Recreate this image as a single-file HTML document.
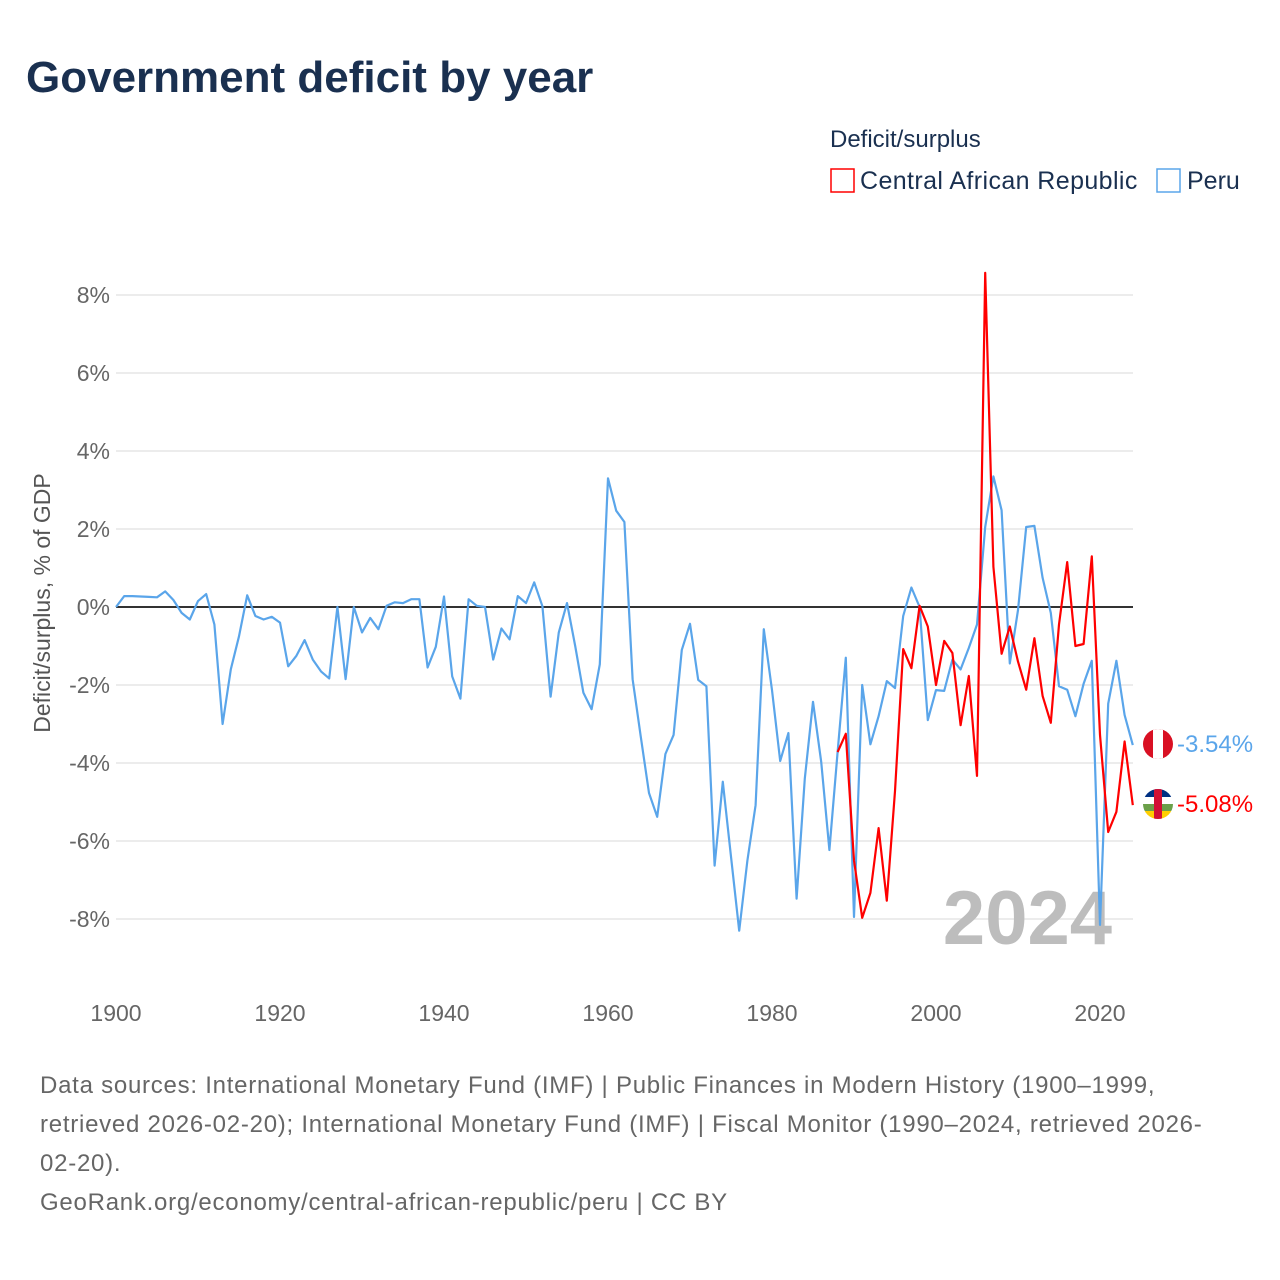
<!DOCTYPE html>
<html><head><meta charset="utf-8"><style>
body{margin:0;background:#fff;font-family:"Liberation Sans",sans-serif;}
#wrap{position:relative;width:1280px;height:1280px;overflow:hidden;}
</style></head><body>
<div id="wrap">
<svg id="chart" width="1280" height="1280" font-family="Liberation Sans, sans-serif">
<text x="26" y="92" font-size="44" font-weight="bold" fill="#1a3050">Government deficit by year</text>
<text x="830" y="147" font-size="24" fill="#1a3050">Deficit/surplus</text>
<g>
<rect x="831" y="169" width="23" height="23" fill="none" stroke="#f00" stroke-width="1.5"/>
<text x="860" y="189" font-size="25" fill="#1a3050" letter-spacing="0.4">Central African Republic</text>
</g>
<g>
<rect x="1157" y="169" width="23" height="23" fill="none" stroke="#5aa5ea" stroke-width="1.5"/>
<text x="1187" y="189" font-size="25" fill="#1a3050">Peru</text>
</g>
<text transform="translate(50,603) rotate(-90)" text-anchor="middle" font-size="23" fill="#555">Deficit/surplus, % of GDP</text>
<g id="grid"></g><g id="yticks"></g><g id="xticks"></g>
<text x="1112" y="944" text-anchor="end" font-size="76" font-weight="bold" fill="#bdbdbd">2024</text>
<g id="series"></g>
<g>
<clipPath id="cp1"><circle cx="1158" cy="744" r="15"/></clipPath>
<g clip-path="url(#cp1)"><rect x="1143" y="729" width="30" height="30" fill="#d91023"/><rect x="1153" y="729" width="10" height="30" fill="#fff"/></g>
</g>
<g>
<clipPath id="cp2"><circle cx="1158" cy="804" r="15"/></clipPath>
<g clip-path="url(#cp2)"><rect x="1143" y="789" width="30" height="8" fill="#003082"/><rect x="1143" y="797" width="30" height="7" fill="#fff"/><rect x="1143" y="804" width="30" height="7" fill="#6ba04a"/><rect x="1143" y="811" width="30" height="8" fill="#ffce00"/><rect x="1154" y="789" width="8" height="30" fill="#d21034"/></g>
</g>
<text x="1177" y="752" font-size="24" fill="#5aa5ea">-3.54%</text>
<text x="1177" y="812" font-size="24" fill="#f00">-5.08%</text>
<text font-size="24" fill="#666" letter-spacing="0.75">
<tspan x="40" y="1093">Data sources: International Monetary Fund (IMF) | Public Finances in Modern History (1900–1999,</tspan>
<tspan x="40" y="1132">retrieved 2026-02-20); International Monetary Fund (IMF) | Fiscal Monitor (1990–2024, retrieved 2026-</tspan>
<tspan x="40" y="1171">02-20).</tspan>
<tspan x="40" y="1210">GeoRank.org/economy/central-african-republic/peru | CC BY</tspan>
</text>
</svg>
</div>
<script>
const yTicks=[8,6,4,2,0,-2,-4,-6,-8];
const xTicks=[1900,1920,1940,1960,1980,2000,2020];
const peruStart=1900;
const peruValues=[0,0.28,0.28,0.27,0.26,0.25,0.4,0.18,-0.15,-0.32,0.15,0.33,-0.45,-3.0,-1.6,-0.75,0.3,-0.23,-0.32,-0.25,-0.4,-1.52,-1.25,-0.85,-1.35,-1.65,-1.83,0,-1.85,0,-0.65,-0.28,-0.57,0.03,0.12,0.1,0.2,0.2,-1.55,-1.02,0.27,-1.78,-2.35,0.2,0.03,0,-1.35,-0.55,-0.83,0.28,0.1,0.63,0.02,-2.3,-0.65,0.1,-1.0,-2.2,-2.62,-1.47,3.3,2.47,2.18,-1.85,-3.33,-4.77,-5.38,-3.77,-3.28,-1.1,-0.43,-1.87,-2.03,-6.63,-4.48,-6.4,-8.3,-6.5,-5.08,-0.57,-2.13,-3.95,-3.23,-7.48,-4.4,-2.43,-3.97,-6.23,-3.72,-1.3,-7.95,-2.0,-3.52,-2.8,-1.9,-2.08,-0.23,0.5,0,-2.9,-2.13,-2.15,-1.35,-1.6,-1.05,-0.45,2.05,3.35,2.48,-1.45,-0.08,2.05,2.08,0.75,-0.15,-2.03,-2.12,-2.8,-1.97,-1.38,-8.15,-2.48,-1.38,-2.77,-3.54];
const carStart=1988;
const carValues=[-3.72,-3.25,-6.5,-7.97,-7.33,-5.67,-7.53,-4.72,-1.08,-1.57,0.03,-0.5,-2.0,-0.87,-1.18,-3.03,-1.77,-4.33,8.57,1.03,-1.2,-0.5,-1.4,-2.12,-0.8,-2.28,-2.97,-0.45,1.15,-1.0,-0.95,1.3,-3.28,-5.77,-5.25,-3.45,-5.08];
const NS='http://www.w3.org/2000/svg';
const xS=yr=>116+(yr-1900)*(984/120);
const yS=v=>607-v*39;
function mk(t,a,p){const e=document.createElementNS(NS,t);for(const k in a)e.setAttribute(k,a[k]);p.appendChild(e);return e;}
const grid=document.getElementById('grid'),yt=document.getElementById('yticks'),xt=document.getElementById('xticks'),ser=document.getElementById('series');
yTicks.forEach(v=>{
 if(v!==0){const l=mk('line',{x1:116,x2:1133,y1:yS(v),y2:yS(v),stroke:'#e6e6e6','stroke-width':1.5},grid);
 
 }
 const t=mk('text',{x:110,y:yS(v)+8,'text-anchor':'end','font-size':23,fill:'#666'},yt);
 t.textContent=v+'%';
 
 
});
xTicks.forEach(y=>{
 const t=mk('text',{x:xS(y),y:1021,'text-anchor':'middle','font-size':23,fill:'#666'},xt);
 t.textContent=y;
 
 
});
const zl=mk('line',{x1:116,x2:1133,y1:yS(0),y2:yS(0),stroke:'#333','stroke-width':2},grid);


function pts(s,vals){return vals.map((v,i)=>xS(s+i).toFixed(1)+','+yS(v).toFixed(1)).join(' ');}
const pp=mk('polyline',{points:pts(peruStart,peruValues),fill:'none',stroke:'#5aa5ea','stroke-width':2.2,'stroke-linejoin':'round'},ser);


const cp=mk('polyline',{points:pts(carStart,carValues),fill:'none',stroke:'#f00','stroke-width':2.2,'stroke-linejoin':'round'},ser);


</script>
</body></html>
